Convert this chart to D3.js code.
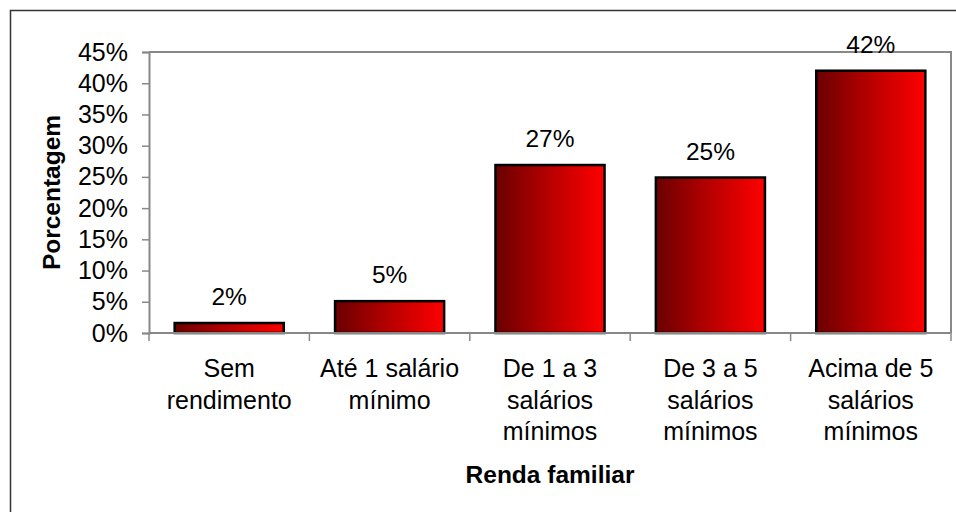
<!DOCTYPE html>
<html><head><meta charset="utf-8">
<script src="https://cdn.jsdelivr.net/npm/d3@7"></script>
<style>
html,body{margin:0;padding:0;background:#fff;}
svg text{font-family:"Liberation Sans",Arial,sans-serif;fill:#000;}
</style></head>
<body>
<svg id="chart" width="956" height="512"></svg>
<script>
const categories = [
  ["Sem", "rendimento"],
  ["Até 1 salário", "mínimo"],
  ["De 1 a 3", "salários", "mínimos"],
  ["De 3 a 5", "salários", "mínimos"],
  ["Acima de 5", "salários", "mínimos"]
];
const values = [0.016, 0.051, 0.269, 0.249, 0.42];
const yTicks = [0, 0.05, 0.10, 0.15, 0.20, 0.25, 0.30, 0.35, 0.40, 0.45];
const xTitle = "Renda familiar";
const yTitle = "Porcentagem";

(function () {
const svg = d3.select("#chart");
const pL = 149, pR = 951, pT = 52, pB = 333;

// outer chart border
svg.append("rect").attr("x", 10.5).attr("y", 10.5).attr("width", 960).attr("height", 520)
  .attr("fill", "none").attr("stroke", "#333").attr("stroke-width", 1.5);

const keys = categories.map((d, i) => i);
const x = d3.scaleBand().domain(keys).range([pL, pR]).paddingInner(0.32).paddingOuter(0.16);
const y = d3.scaleLinear().domain([0, 0.45]).range([pB, pT]);

const defs = svg.append("defs");
const grad = defs.append("linearGradient").attr("id", "barGrad")
  .attr("x1", "0%").attr("x2", "100%").attr("y1", "0%").attr("y2", "0%");
grad.append("stop").attr("offset", "0%").attr("stop-color", "#6a0000");
grad.append("stop").attr("offset", "50%").attr("stop-color", "#b80000");
grad.append("stop").attr("offset", "100%").attr("stop-color", "#ff0000");

// plot area border (top & right)
svg.append("path")
  .attr("d", `M${pL},${pT}H${pR}V${pB}`)
  .attr("fill", "none").attr("stroke", "#888").attr("stroke-width", 2);

// y axis
const yAxis = d3.axisLeft(y).tickValues(yTicks).tickFormat(d3.format(".0%")).tickSize(7).tickPadding(14);
const gy = svg.append("g").attr("transform", `translate(${pL},0)`).call(yAxis);
gy.select(".domain").attr("stroke", "#888").attr("stroke-width", 2);
gy.selectAll(".tick line").attr("stroke", "#888").attr("stroke-width", 1.5);
gy.selectAll(".tick text").style("font-size", "25px").attr("fill", "#000");

// bars
svg.append("g").selectAll("rect").data(values).join("rect")
  .attr("x", (d, i) => x(i))
  .attr("y", d => y(d))
  .attr("width", x.bandwidth())
  .attr("height", d => y(0) - y(d))
  .attr("fill", "url(#barGrad)")
  .attr("stroke", "#000").attr("stroke-width", 2.5);

// x axis line + boundary ticks
svg.append("line").attr("x1", pL).attr("x2", pR).attr("y1", pB).attr("y2", pB)
  .attr("stroke", "#888").attr("stroke-width", 2);
const bounds = d3.range(categories.length + 1).map(i => pL + i * x.step());
svg.append("g").selectAll("line").data(bounds).join("line")
  .attr("x1", d => d).attr("x2", d => d).attr("y1", pB).attr("y2", pB + 8)
  .attr("stroke", "#888").attr("stroke-width", 1.5);

// category labels
const cat = svg.append("g").selectAll("text").data(categories).join("text")
  .attr("text-anchor", "middle").style("font-size", "25px")
  .attr("x", (d, i) => x(i) + x.bandwidth() / 2)
  .attr("y", 377);
cat.selectAll("tspan").data(d => d).join("tspan")
  .attr("x", function() { return this.parentNode.getAttribute("x"); })
  .attr("dy", (d, i) => i === 0 ? 0 : 31.7)
  .text(d => d);

// data labels
svg.append("g").selectAll("text").data(values).join("text")
  .attr("text-anchor", "middle").style("font-size", "24.5px")
  .attr("x", (d, i) => x(i) + x.bandwidth() / 2)
  .attr("y", d => y(d) - 18)
  .text(d => d3.format(".0%")(d));

// axis titles
svg.append("text").attr("text-anchor", "middle").style("font-size", "24.5px").style("font-weight", "bold")
  .attr("x", (pL + pR) / 2).attr("y", 483).text(xTitle);
svg.append("text").attr("text-anchor", "middle").style("font-size", "24.5px").style("font-weight", "bold")
  .attr("transform", `translate(60,${(pT + pB) / 2}) rotate(-90)`).text(yTitle);
})();
</script>
</body></html>
